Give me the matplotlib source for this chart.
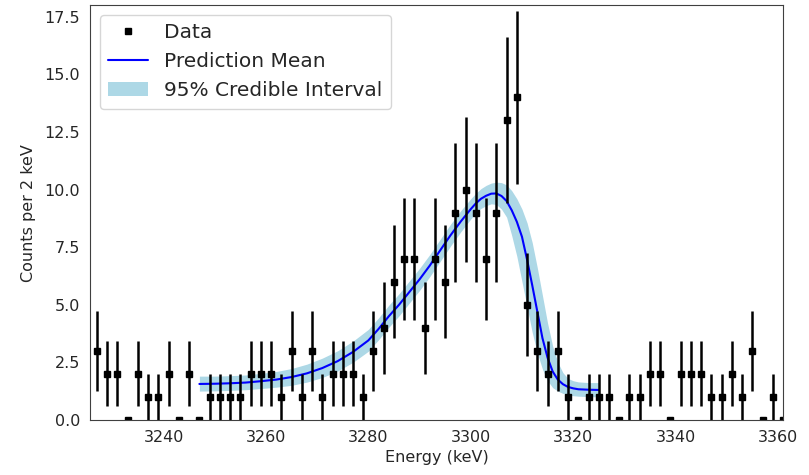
import numpy as np
import matplotlib
matplotlib.use("Agg")
import matplotlib.pyplot as plt
from matplotlib.lines import Line2D
from matplotlib.ticker import MultipleLocator
import seaborn as sns

# observed counts, 2 keV bins
energy = np.arange(3227, 3362, 2)
counts = [3, 2, 2, 0, 2, 1, 1, 2, 0, 2, 0, 1, 1, 1, 1, 2, 2, 2, 1, 3,
          1, 3, 1, 2, 2, 2, 1, 3, 4, 6, 7, 7, 4, 7, 6, 9, 10, 9, 7, 9,
          13, 14, 5, 3, 2, 3, 1, 0, 1, 1, 1, 0, 1, 1, 2, 2, 0, 2, 2, 2,
          1, 1, 2, 1, 3, 0, 1, 0]

# posterior prediction
pred_e = [3247, 3250, 3253, 3256, 3259, 3262, 3265, 3268, 3271, 3274,
          3277, 3280, 3282, 3284, 3286, 3288, 3290, 3292, 3294, 3296,
          3298, 3300, 3301, 3302, 3303, 3304, 3305, 3306, 3307, 3308,
          3309, 3310, 3311, 3312, 3313, 3314, 3315, 3316, 3317, 3318,
          3319, 3320, 3321, 3323, 3325]
pred_mean = [1.56, 1.57, 1.59, 1.62, 1.68, 1.75, 1.86, 2.02, 2.25, 2.55,
             2.95, 3.45, 3.95, 4.50, 5.00, 5.55, 6.10, 6.70, 7.35, 8.00,
             8.60, 9.15, 9.40, 9.60, 9.73, 9.82, 9.83, 9.72, 9.50, 9.10,
             8.60, 7.95, 6.95, 5.85, 4.70, 3.55, 2.70, 2.10, 1.75, 1.55,
             1.43, 1.37, 1.33, 1.31, 1.30]
pred_lo = [1.25, 1.26, 1.28, 1.31, 1.36, 1.42, 1.50, 1.64, 1.84, 2.12,
           2.50, 2.98, 3.48, 4.02, 4.52, 5.07, 5.62, 6.22, 6.87, 7.53,
           8.15, 8.72, 8.98, 9.18, 9.30, 9.38, 9.35, 9.15, 8.80, 8.00,
           7.10, 6.00, 4.90, 3.80, 2.90, 2.20, 1.70, 1.40, 1.25, 1.15,
           1.08, 1.05, 1.03, 1.01, 1.00]
pred_hi = [1.90, 1.90, 1.92, 1.95, 2.02, 2.10, 2.23, 2.42, 2.68, 3.00,
           3.42, 3.93, 4.43, 4.98, 5.48, 6.03, 6.58, 7.18, 7.83, 8.48,
           9.07, 9.60, 9.84, 10.04, 10.18, 10.28, 10.32, 10.30, 10.20, 9.95,
           9.60, 9.15, 8.55, 7.70, 6.60, 5.40, 4.20, 3.20, 2.50, 2.05,
           1.80, 1.70, 1.65, 1.62, 1.62]

sns.set_style("white")
plt.rcParams['font.family'] = ['DejaVu Sans']

fig = plt.figure(figsize=(8.09, 4.75), dpi=100)
ax = fig.add_axes([0.111, 0.116, 0.857, 0.873])

band = ax.fill_between(pred_e, pred_lo, pred_hi, color='lightblue', lw=0)
line, = ax.plot(pred_e, pred_mean, color='blue', lw=1.5)
ax.errorbar(energy, counts, yerr=np.sqrt(counts), fmt='s', color='black',
            ms=5, elinewidth=1.8, capsize=0)

ax.set_xlim(3225.6, 3361)
ax.set_ylim(0, 18.0)
ax.yaxis.set_major_locator(MultipleLocator(2.5))
ax.set_xlabel('Energy (keV)', fontsize=11.5)
ax.set_ylabel('Counts per 2 keV', fontsize=11.5, labelpad=6)
ax.tick_params(labelsize=11.5)
for s in ax.spines.values():
    s.set_color('.25')

data_h = Line2D([], [], ls='none', marker='s', color='black', ms=5)
ax.legend([data_h, line, band],
          ['Data', 'Prediction Mean', '95% Credible Interval'],
          loc='upper left', fontsize=14.5, frameon=True)

fig.savefig('out.png', dpi=100)
